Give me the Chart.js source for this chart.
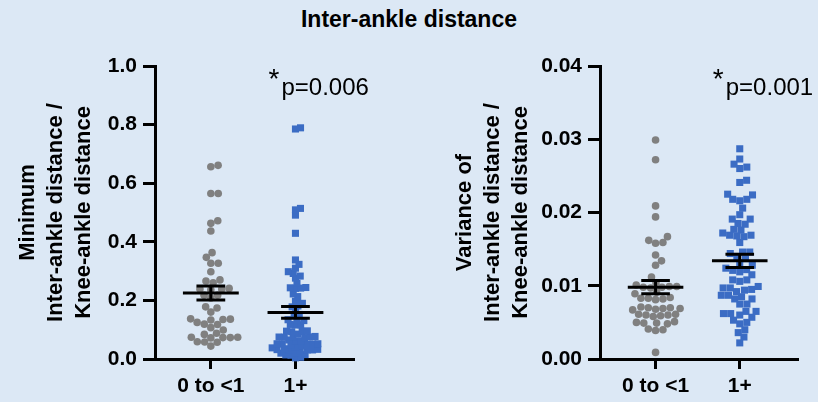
<!DOCTYPE html>
<html>
<head>
<meta charset="utf-8">
<script src="https://cdn.jsdelivr.net/npm/chart.js@4"></script>
<style>
  html, body { margin: 0; padding: 0; background: #dce8f5; width: 818px; height: 402px; overflow: hidden; }
  #title { position: absolute; left: 0; top: 5px; width: 818px; text-align: center;
           font: bold 23px 'Liberation Sans', Arial, sans-serif; line-height: 28px; color: #000; }
  canvas { position: absolute; top: 40px; }
  #minChart { left: 0; }
  #varChart { left: 409px; }
</style>
</head>
<body>
<div id="title">Inter-ankle distance</div>
<canvas id="minChart" width="409" height="362"></canvas>
<canvas id="varChart" width="409" height="362"></canvas>
<script>
// Age groups on the x axis
const ageGroups = ['0 to <1', '1+'];

// Minimum inter-ankle / knee-ankle distance, per child
const minRatioUnder1 = [0.661, 0.656, 0.565, 0.565, 0.472, 0.463, 0.437, 0.363, 0.347, 0.327, 0.327,
  0.298, 0.270, 0.266, 0.260, 0.239, 0.239, 0.241, 0.236, 0.218, 0.218, 0.208, 0.178, 0.174, 0.160,
  0.137, 0.135, 0.133, 0.136, 0.125, 0.119, 0.118, 0.107, 0.099, 0.088, 0.084, 0.074, 0.073, 0.072,
  0.073, 0.074, 0.059, 0.058, 0.057, 0.044];
const minRatioOver1 = [0.789, 0.785, 0.514, 0.509, 0.491, 0.429, 0.338, 0.323, 0.310, 0.298, 0.292,
  0.283, 0.276, 0.258, 0.243, 0.242, 0.241, 0.244, 0.222, 0.213, 0.197, 0.190, 0.181, 0.178, 0.165,
  0.152, 0.148, 0.133, 0.131, 0.134, 0.118, 0.116, 0.117, 0.096, 0.095, 0.094, 0.093, 0.085, 0.076,
  0.075, 0.074, 0.077, 0.073, 0.075, 0.065, 0.062, 0.060, 0.052, 0.051, 0.050, 0.052, 0.049, 0.051,
  0.045, 0.040, 0.038, 0.035, 0.032, 0.031, 0.030, 0.033, 0.029, 0.031, 0.022, 0.020, 0.015, 0.014,
  0.013, 0.006, 0.004];
const minRatioMeans = [0.225, 0.159];
const minRatioSems = [0.024, 0.020];
const minRatioTicks = ['0.0', '0.2', '0.4', '0.6', '0.8', '1.0'];

// Variance of inter-ankle / knee-ankle distance, per child
const varianceUnder1 = [0.0299, 0.0272, 0.0209, 0.0194, 0.0167, 0.0162, 0.0159, 0.0158, 0.0142, 0.0134,
  0.0128, 0.0112, 0.0104, 0.0101, 0.0098, 0.0099, 0.0097, 0.0098, 0.0099, 0.0091, 0.0089, 0.0084,
  0.0083, 0.0082, 0.0081, 0.0083, 0.0070, 0.0069, 0.0068, 0.0071, 0.0069, 0.0067, 0.0070, 0.0060,
  0.0061, 0.0059, 0.0060, 0.0058, 0.0061, 0.0049, 0.0050, 0.0048, 0.0049, 0.0051, 0.0040, 0.0041,
  0.0039, 0.0009];
const varianceOver1 = [0.0287, 0.0273, 0.0266, 0.0262, 0.0260, 0.0244, 0.0241, 0.0225, 0.0224, 0.0218,
  0.0218, 0.0216, 0.0206, 0.0197, 0.0191, 0.0191, 0.0185, 0.0184, 0.0177, 0.0176, 0.0172, 0.0169,
  0.0169, 0.0168, 0.0167, 0.0159, 0.0146, 0.0146, 0.0144, 0.0140, 0.0137, 0.0131, 0.0128, 0.0124,
  0.0122, 0.0121, 0.0119, 0.0115, 0.0108, 0.0108, 0.0106, 0.0099, 0.0097, 0.0097, 0.0095, 0.0094,
  0.0092, 0.0087, 0.0087, 0.0085, 0.0082, 0.0082, 0.0075, 0.0075, 0.0065, 0.0065, 0.0062, 0.0062,
  0.0060, 0.0057, 0.0053, 0.0050, 0.0048, 0.0040, 0.0036, 0.0030, 0.0022];
const varianceMeans = [0.0098, 0.0134];
const varianceSems = [0.0009, 0.0009];
const varianceTicks = ['0.00', '0.01', '0.02', '0.03', '0.04'];

const pValues = ['p=0.006', 'p=0.001'];

const FONT = "'Liberation Sans', Arial, sans-serif";
const GREY = '#808080';
const BLUE = '#3b6cc4';

Chart.defaults.font.family = FONT;
Chart.defaults.color = '#000';

// Mean line with SEM whiskers for each group, broken into segments by gaps
function summaryPoints(means, sems) {
  const pts = [];
  means.forEach((m, i) => {
    const c = i + 1, s = sems[i];
    pts.push({ x: c - 0.33, y: m }, { x: c + 0.33, y: m }, { x: c, y: null });
    pts.push({ x: c - 0.17, y: m + s }, { x: c + 0.17, y: m + s }, { x: c, y: null });
    pts.push({ x: c - 0.17, y: m - s }, { x: c + 0.17, y: m - s }, { x: c, y: null });
    pts.push({ x: c, y: m - s }, { x: c, y: m + s }, { x: c, y: null });
  });
  return pts;
}

// Greedy beeswarm: spread points sideways so markers of the given pixel spacing do not overlap
function swarm(chart, values, center, spacing) {
  const xs = chart.scales.x, ys = chart.scales.y;
  const pxPerX = xs.getPixelForValue(1) - xs.getPixelForValue(0);
  const sorted = values.slice().sort((a, b) => a - b);
  const placed = [];
  for (const v of sorted) {
    const py = ys.getPixelForValue(v);
    const near = placed.filter(p => Math.abs(p.py - py) < spacing);
    const cands = [0];
    near.forEach(p => {
      const dx = Math.sqrt(spacing * spacing - (p.py - py) * (p.py - py));
      cands.push(p.px + dx, p.px - dx);
    });
    cands.sort((a, b) => Math.abs(a) - Math.abs(b));
    let px = 0;
    for (const c of cands) {
      if (near.every(p => (p.px - c) ** 2 + (p.py - py) ** 2 >= spacing * spacing - 0.01)) { px = c; break; }
    }
    placed.push({ px, py, v });
  }
  return placed.map(p => ({ x: center + p.px / pxPerX, y: p.v }));
}

function pValueLabel(text) {
  return {
    id: 'pValueLabel',
    afterDatasetsDraw(chart) {
      const ctx = chart.ctx;
      const x = chart.scales.x.getPixelForValue(2);
      const top = chart.chartArea.top;
      ctx.save();
      ctx.fillStyle = '#000';
      ctx.textBaseline = 'alphabetic';
      ctx.textAlign = 'left';
      ctx.font = '28px ' + FONT;
      ctx.fillText('*', x - 27, top + 22);
      ctx.font = '24px ' + FONT;
      ctx.fillText(text, x - 14, top + 29);
      ctx.restore();
    }
  };
}

function makeChart(canvasId, cfg) {
  const axisFont = { family: FONT, size: 21, weight: 'bold' };
  return new Chart(document.getElementById(canvasId), {
    type: 'scatter',
    data: {
      datasets: [
        { data: summaryPoints(cfg.means, cfg.sems), showLine: true, spanGaps: false,
          borderColor: '#000', borderWidth: 3, borderCapStyle: 'butt', pointRadius: 0, order: -1, clip: false },
        { data: [], pointStyle: 'circle', pointRadius: 3.8, backgroundColor: GREY, borderWidth: 0, clip: false },
        { data: [], pointStyle: 'rect', pointRadius: 5, backgroundColor: BLUE, borderWidth: 0, clip: false }
      ]
    },
    options: {
      responsive: false,
      animation: false,
      devicePixelRatio: 1,
      layout: { padding: { top: 26, right: cfg.padRight, left: cfg.padLeft, bottom: 0 } },
      plugins: { legend: { display: false }, tooltip: { enabled: false } },
      scales: {
        x: {
          type: 'linear', min: 0.34, max: 2.68,
          afterBuildTicks: s => { s.ticks = ageGroups.map((_, i) => ({ value: i + 1 })); },
          afterFit: s => { s.height = 43; },
          ticks: { font: axisFont, padding: 5, maxRotation: 0, callback: v => ageGroups[v - 1] },
          grid: { display: true, drawOnChartArea: false, drawTicks: true, tickLength: 10, color: '#000', lineWidth: 3 },
          border: { display: true, color: '#000', width: 3 }
        },
        y: {
          type: 'linear', min: 0, max: cfg.max,
          afterBuildTicks: s => { s.ticks = cfg.ticks.map(t => ({ value: parseFloat(t) })); },
          afterFit: s => { s.width = cfg.axisWidth; },
          ticks: { font: axisFont, padding: 6, callback: (v, i) => cfg.ticks[i] },
          grid: { display: true, drawOnChartArea: false, drawTicks: true, tickLength: 12, color: '#000', lineWidth: 3 },
          border: { display: true, color: '#000', width: 3 },
          title: { display: true, text: cfg.title, font: { family: FONT, size: 22, weight: 'bold', lineHeight: 1.27 },
                   padding: { top: 14, bottom: 0 } }
        }
      }
    },
    plugins: [pValueLabel(cfg.p)]
  });
}

function fillSwarms(chart, under1, over1, greySpacing, blueSpacing) {
  chart.data.datasets[1].data = swarm(chart, under1, 1, greySpacing);
  chart.data.datasets[2].data = swarm(chart, over1, 2, blueSpacing);
  chart.update();
}

const minChart = makeChart('minChart', {
  means: minRatioMeans, sems: minRatioSems, max: 1, ticks: minRatioTicks,
  title: ['Minimum', 'Inter-ankle distance /', 'Knee-ankle distance'],
  p: pValues[0], padLeft: 0, padRight: 56, axisWidth: 155
});
fillSwarms(minChart, minRatioUnder1, minRatioOver1, 7.4, 5.2);

const varChart = makeChart('varChart', {
  means: varianceMeans, sems: varianceSems, max: 0.04, ticks: varianceTicks,
  title: ['Variance of', 'Inter-ankle distance /', 'Knee-ankle distance'],
  p: pValues[1], padLeft: 28, padRight: 21, axisWidth: 163
});
fillSwarms(varChart, varianceUnder1, varianceOver1, 7.4, 7.2);
</script>
</body>
</html>
